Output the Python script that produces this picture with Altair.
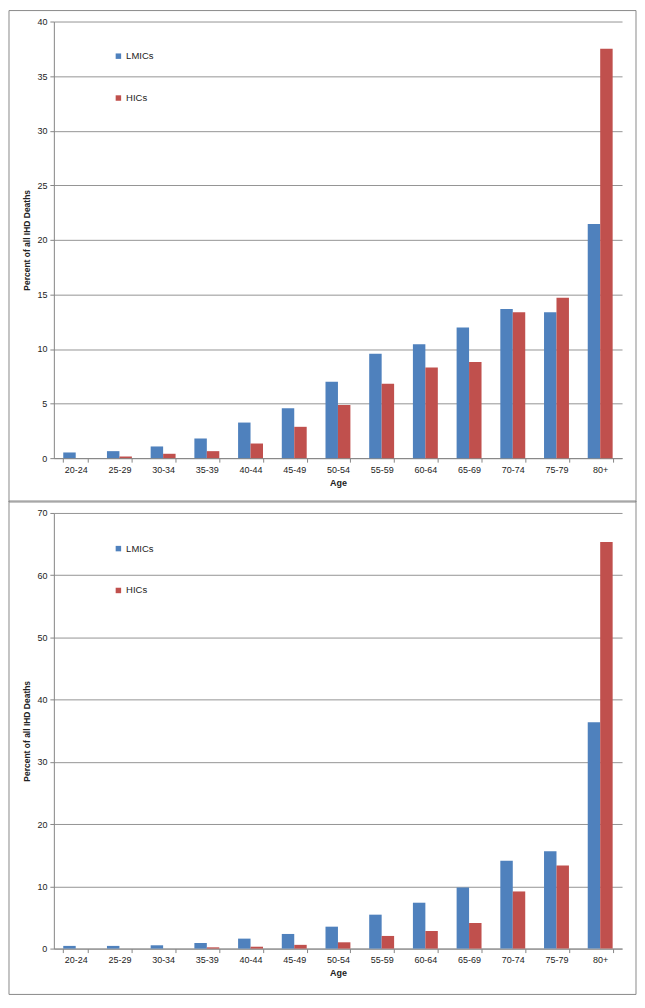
import altair as alt
import pandas as pd

ages = ["20-24", "25-29", "30-34", "35-39", "40-44", "45-49", "50-54",
        "55-59", "60-64", "65-69", "70-74", "75-79", "80+"]
groups = ["LMICs", "HICs"]

top_lmic = [0.52, 0.64, 1.07, 1.8, 3.26, 4.57, 7.0, 9.56, 10.44, 11.96, 13.67, 13.36, 21.46]
top_hic = [0.0, 0.15, 0.4, 0.64, 1.34, 2.87, 4.87, 6.82, 8.31, 8.8, 13.36, 14.7, 37.5]
bot_lmic = [0.43, 0.43, 0.53, 0.9, 1.6, 2.35, 3.52, 5.45, 7.37, 9.82, 14.1, 15.64, 36.36]
bot_hic = [0.0, 0.0, 0.0, 0.2, 0.3, 0.6, 1.01, 2.03, 2.83, 4.11, 9.18, 13.35, 65.35]

colors = ["#4F81BD", "#C0504D"]
FONT = "Liberation Sans"
W = 570


def long_df(lmic, hic):
    rows = []
    for a, v in zip(ages, lmic):
        rows.append({"Age": a, "Group": "LMICs", "Value": v})
    for a, v in zip(ages, hic):
        rows.append({"Age": a, "Group": "HICs", "Value": v})
    return pd.DataFrame(rows)


def panel(lmic, hic, ymax, ystep, H, legend_y, ftop, fbot):
    df = long_df(lmic, hic)
    frame = alt.Chart(pd.DataFrame({"a": [0]})).mark_rect(
        fillOpacity=0, stroke="#8a8a8a", strokeWidth=1
    ).encode(
        x=alt.value(-45), x2=alt.value(W + 14),
        y=alt.value(-ftop), y2=alt.value(H + fbot),
    )
    bars = alt.Chart(df).mark_bar().encode(
        x=alt.X("Age:N", sort=ages,
                scale=alt.Scale(paddingInner=0.43, paddingOuter=0.215),
                axis=alt.Axis(title="Age", labelAngle=0, tickBand="extent",
                              tickSize=4, labelPadding=3, titlePadding=4,
                              domainColor="#868686", tickColor="#868686",
                              labelFont=FONT, labelFontSize=9, labelColor="#222",
                              titleFont=FONT, titleFontSize=9, titleFontWeight="bold",
                              titleColor="#222", grid=False)),
        xOffset=alt.XOffset("Group:N", sort=groups,
                            scale=alt.Scale(domain=groups, paddingInner=0, paddingOuter=0)),
        y=alt.Y("Value:Q",
                scale=alt.Scale(domain=[0, ymax], nice=False),
                axis=alt.Axis(title="Percent of all IHD Deaths",
                              values=list(range(0, ymax + 1, ystep)),
                              tickSize=4, labelPadding=3, titlePadding=5,
                              domainColor="#868686", tickColor="#868686",
                              gridColor="#959595", gridWidth=1,
                              labelFont=FONT, labelFontSize=9, labelColor="#222",
                              titleFont=FONT, titleFontSize=8.5, titleFontWeight="bold",
                              titleColor="#222")),
        color=alt.Color("Group:N",
                        scale=alt.Scale(domain=groups, range=colors),
                        legend=alt.Legend(title=None, orient="none",
                                          legendX=60, legendY=legend_y,
                                          direction="vertical", rowPadding=31,
                                          symbolType="square", symbolSize=30,
                                          symbolStrokeWidth=0, labelFont=FONT,
                                          labelFontSize=9.5, labelColor="#222",
                                          labelOffset=3)),
    )
    return alt.layer(frame, bars).properties(width=W, height=H)


top = panel(top_lmic, top_hic, 40, 5, 438, 30, 11, 44)
bottom = panel(bot_lmic, bot_hic, 70, 10, 437, 31, 12, 46)

chart = alt.vconcat(top, bottom, spacing=-3).resolve_scale(
    color="independent", x="independent", y="independent"
).resolve_legend(color="independent").properties(
    padding=0
).configure_view(stroke="transparent")

chart.save("out.html", embed_options={"renderer": "svg", "actions": False})
